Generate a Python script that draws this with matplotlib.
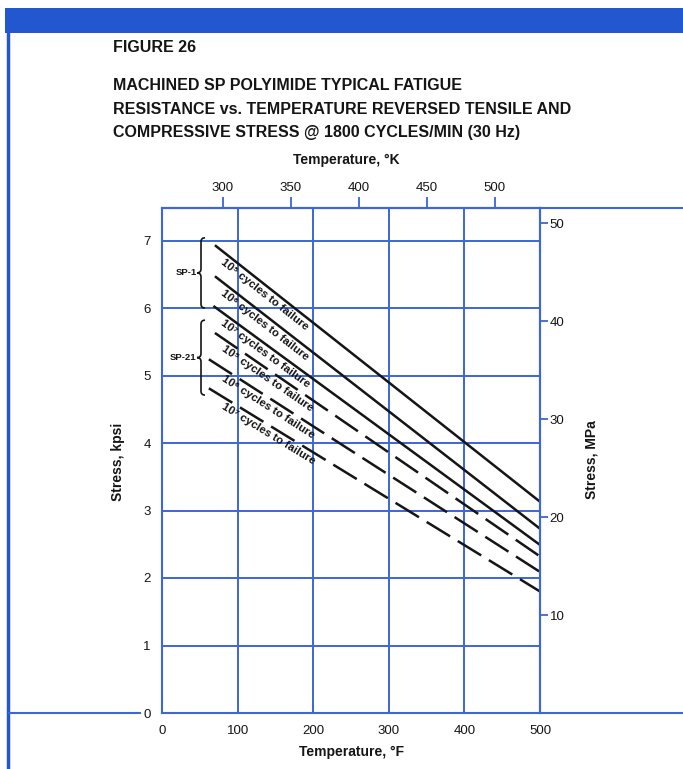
import numpy as np
import matplotlib
matplotlib.use("Agg")
import matplotlib.pyplot as plt
from matplotlib.lines import Line2D
from matplotlib.patches import Rectangle, PathPatch
from matplotlib.path import Path

plt.rcParams['font.family'] = ['Liberation Sans', 'DejaVu Sans']

# ---- data ----
temp_f_ticks = [0, 100, 200, 300, 400, 500]
stress_kpsi_ticks = [0, 1, 2, 3, 4, 5, 6, 7]
stress_mpa_ticks = [10, 20, 30, 40, 50]
temp_k_ticks = [300, 350, 400, 450, 500]

curve_group = ["SP-1", "SP-1", "SP-1", "SP-21", "SP-21", "SP-21"]
curve_cycles = ["⁵", "⁶", "⁷", "⁵", "⁶", "⁷"]
curve_t_start = [70, 70, 68, 70, 62, 62]
curve_s_start = [6.93, 6.47, 6.03, 5.63, 5.24, 4.81]
curve_t_end = [500, 500, 500, 500, 500, 500]
curve_s_end = [3.13, 2.73, 2.49, 2.32, 2.09, 1.80]

group_names = ["SP-1", "SP-21"]
group_top = [7.04, 5.82]
group_bottom = [6.00, 4.71]

title_lines = ["MACHINED SP POLYIMIDE TYPICAL FATIGUE",
               "RESISTANCE vs. TEMPERATURE REVERSED TENSILE AND",
               "COMPRESSIVE STRESS @ 1800 CYCLES/MIN (30 Hz)"]

# ---- layout ----
W, H = 683, 769
fig = plt.figure(figsize=(W / 100, H / 100), dpi=100)
fig.patch.set_facecolor("white")

BLUE = "#3d66d6"
FRAME_BLUE = "#2257cf"
INK = "#151515"


def fx(px):
    return px / W


def fy(py):
    return 1 - py / H


ax = fig.add_axes([fx(162), fy(713), 378 / W, 505 / H])
ax.set_xlim(0, 500)
ax.set_ylim(0, 505 / 67.5)
ax.set_xticks(temp_f_ticks)
ax.set_yticks(stress_kpsi_ticks)
ax.grid(True, color=BLUE, lw=1.4)
ax.set_axisbelow(True)
for s in ax.spines.values():
    s.set_color(BLUE)
    s.set_linewidth(1.5)
ax.tick_params(axis='both', length=0, labelsize=9.5, colors=INK)
ax.tick_params(axis='x', pad=9)
ax.tick_params(axis='y', pad=8)


def f2k(f):
    return (np.asarray(f) - 32) * 5 / 9 + 273.15


def k2f(k):
    return (np.asarray(k) - 273.15) * 9 / 5 + 32


def kpsi2mpa(s):
    return np.asarray(s) * 6.894757


def mpa2kpsi(m):
    return np.asarray(m) / 6.894757


top = ax.secondary_xaxis('top', functions=(f2k, k2f))
top.set_xticks(temp_k_ticks)
top.tick_params(direction='out', length=8, width=1.3, color=BLUE,
                labelsize=9.5, labelcolor=INK, pad=2)
top.spines['top'].set_color(BLUE)
top.spines['top'].set_linewidth(1.5)

right = ax.secondary_yaxis('right', functions=(kpsi2mpa, mpa2kpsi))
right.set_yticks(stress_mpa_ticks)
right.tick_params(direction='out', length=6, width=1.3, color=BLUE,
                  labelsize=9.5, labelcolor=INK, pad=1)
right.spines['right'].set_color(BLUE)
right.spines['right'].set_linewidth(1.5)

# ---- curves ----
for i in range(len(curve_s_start)):
    ls = '-' if curve_group[i] == "SP-1" else (0, (11, 3.6))
    ax.plot([curve_t_start[i], curve_t_end[i]],
            [curve_s_start[i], curve_s_end[i]],
            color=INK, lw=1.8, linestyle=ls, solid_capstyle='butt')

    p0 = ax.transData.transform((curve_t_start[i], curve_s_start[i]))
    p1 = ax.transData.transform((curve_t_end[i], curve_s_end[i]))
    ang = np.arctan2(p1[1] - p0[1], p1[0] - p0[0])
    t_lab = 86
    frac = (t_lab - curve_t_start[i]) / (curve_t_end[i] - curve_t_start[i])
    s_lab = curve_s_start[i] + frac * (curve_s_end[i] - curve_s_start[i])
    off = 2.0
    ax.annotate("10" + curve_cycles[i] + " cycles to failure",
                xy=(t_lab, s_lab),
                xytext=(np.sin(ang) * off, -np.cos(ang) * off),
                textcoords='offset points', rotation=np.degrees(ang),
                rotation_mode='anchor', ha='left', va='top',
                fontsize=8.2, fontweight='bold', color=INK)

# ---- braces for the material groups ----
px_x = 500 / 378
px_y = (505 / 67.5) / 505
bx = (201 - 162) * px_x
w = 4 * px_x
h = 4 * px_y
for name, t_, b_ in zip(group_names, group_top, group_bottom):
    mid = (t_ + b_) / 2
    verts = [(bx + w, t_), (bx, t_), (bx, t_ - h),
             (bx, mid + h), (bx, mid), (bx - w, mid),
             (bx, mid), (bx, mid - h),
             (bx, b_ + h), (bx, b_), (bx + w, b_)]
    codes = [Path.MOVETO, Path.CURVE3, Path.CURVE3,
             Path.LINETO, Path.CURVE3, Path.CURVE3,
             Path.CURVE3, Path.CURVE3,
             Path.LINETO, Path.CURVE3, Path.CURVE3]
    ax.add_patch(PathPatch(Path(verts, codes), fill=False, lw=1.2,
                           edgecolor=INK, clip_on=False))
    ax.text(bx - w - 0.5 * px_x, mid, name, ha='right', va='center',
            fontsize=6.8, fontweight='bold', color=INK)

# ---- axis titles ----
fig.text(fx(352), fy(752), "Temperature, °F", ha='center', va='center',
         fontsize=10, fontweight='bold', color=INK)
fig.text(fx(346), fy(160), "Temperature, °K", ha='center', va='center',
         fontsize=10, fontweight='bold', color=INK)
fig.text(fx(118), fy(462), "Stress, kpsi", ha='center', va='center',
         rotation=90, fontsize=10, fontweight='bold', color=INK)
fig.text(fx(592), fy(460), "Stress, MPa", ha='center', va='center',
         rotation=90, fontsize=10, fontweight='bold', color=INK)

# ---- figure heading ----
fig.text(fx(113), fy(48), "FIGURE 26", ha='left', va='center',
         fontsize=11.5, fontweight='bold', color=INK)
for yy, line in zip([85, 110, 133], title_lines):
    fig.text(fx(113), fy(yy), line, ha='left', va='center',
             fontsize=11.5, fontweight='bold', color=INK)

# ---- page frame ----
fig.add_artist(Rectangle((fx(5), fy(33)), (W - 5) / W, 25 / H,
                         transform=fig.transFigure, color=FRAME_BLUE, lw=0))
fig.add_artist(Line2D([fx(8), fx(8)], [fy(33), 0], transform=fig.transFigure,
                      color=FRAME_BLUE, lw=2.5))
fig.add_artist(Line2D([fx(540), 1], [fy(208), fy(208)], transform=fig.transFigure,
                      color=BLUE, lw=1.5))
fig.add_artist(Line2D([fx(540), 1], [fy(713), fy(713)], transform=fig.transFigure,
                      color=BLUE, lw=1.5))
fig.add_artist(Line2D([fx(9), fx(140)], [fy(713), fy(713)], transform=fig.transFigure,
                      color=BLUE, lw=1.5))

fig.savefig("out.png", dpi=100)
